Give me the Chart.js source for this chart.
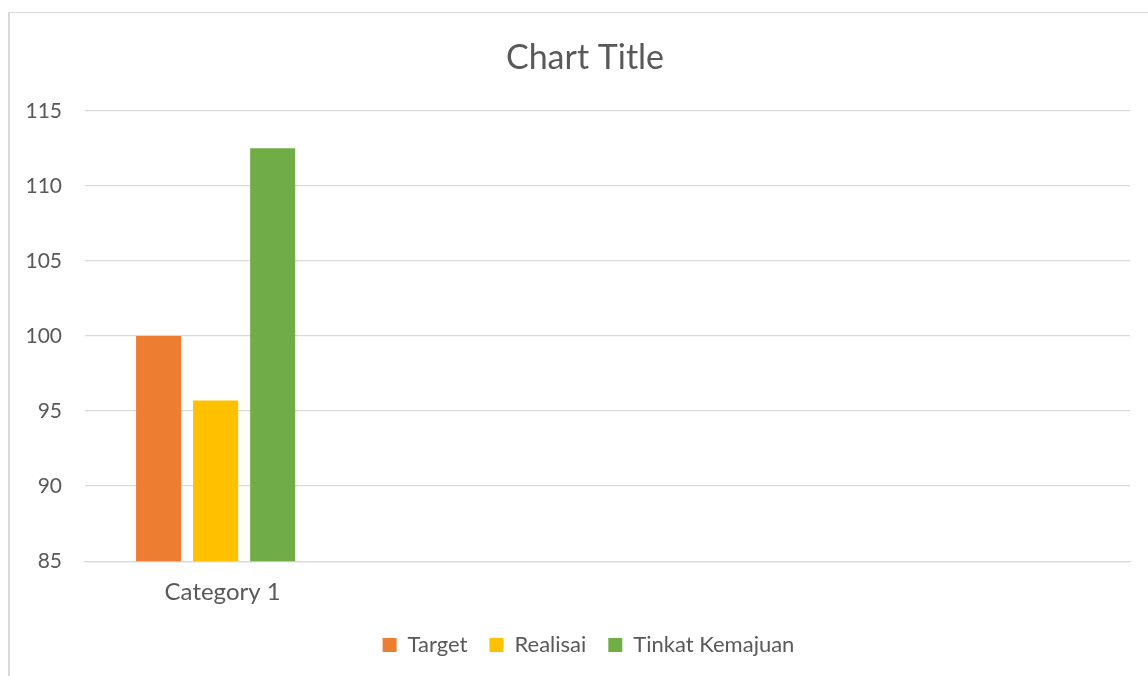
<!DOCTYPE html>
<html>
<head>
<meta charset="utf-8">
<script src="https://cdn.jsdelivr.net/npm/chart.js@4.4.1/dist/chart.umd.min.js"></script>
<style>
  html, body { margin: 0; padding: 0; background: #ffffff; overflow: hidden; }
  #wrap { position: relative; width: 1148px; height: 676px; overflow: hidden; }
  #frame { position: absolute; left: 8px; top: 12px; width: 1200px; height: 700px;
           border-left: 2px solid #d9d9d9; border-top: 1px solid #d9d9d9; }
  #c { position: absolute; left: 0; top: 0; }
</style>
</head>
<body>
<div id="wrap">
  <div id="frame"></div>
  <canvas id="c" width="1148" height="676"></canvas>
</div>
<script>
const categories = ['Category 1', '', '', ''];
const seriesNames = ['Target', 'Realisai', 'Tinkat Kemajuan'];
const targetValues = [100, null, null, null];
const realisaiValues = [95.7, null, null, null];
const kemajuanValues = [112.5, null, null, null];
const yTicks = [85, 90, 95, 100, 105, 110, 115];
const seriesColors = ['#ED7D31', '#FFC000', '#70AD47'];

const FONT = 'Lato, "Open Sans", sans-serif';
const TEXT = '#595959';
const GRID = '#d9d9d9';

const seriesValues = [targetValues, realisaiValues, kemajuanValues];

// Excel centres the title and legend slightly right of the canvas centre
const shiftBoxes = {
  id: 'shiftBoxes',
  afterLayout(chart) {
    if (chart.titleBlock) { chart.titleBlock.left += 15; chart.titleBlock.right += 15; }
    if (chart.legend) { chart.legend.left += 37; }
  }
};

new Chart(document.getElementById('c'), {
  type: 'bar',
  data: {
    labels: categories,
    datasets: seriesNames.map((name, i) => ({
      label: name,
      data: seriesValues[i],
      backgroundColor: seriesColors[i],
      borderWidth: 0,
      categoryPercentage: 0.655,
      barPercentage: 0.79
    }))
  },
  plugins: [shiftBoxes],
  options: {
    responsive: false,
    animation: false,
    layout: { padding: { left: 10, right: 18, top: 0, bottom: 10 } },
    plugins: {
      title: {
        display: true,
        text: 'Chart Title',
        color: TEXT,
        font: { family: FONT, size: 34, weight: 'normal' },
        padding: { top: 38, bottom: 32 }
      },
      legend: {
        display: true,
        position: 'bottom',
        labels: {
          color: TEXT,
          font: { family: FONT, size: 22 },
          boxWidth: 14,
          boxHeight: 14,
          padding: 22
        }
      },
      tooltip: { enabled: false }
    },
    scales: {
      x: {
        grid: { display: false, drawTicks: false },
        border: { display: true, color: GRID, width: 1.3 },
        ticks: { color: TEXT, font: { family: FONT, size: 24 }, padding: 17, labelOffset: 7, maxRotation: 0, autoSkip: false },
        afterFit: (scale) => { scale.height -= 12; }
      },
      y: {
        min: yTicks[0],
        max: yTicks[yTicks.length - 1],
        afterBuildTicks: (scale) => { scale.ticks = yTicks.map(v => ({ value: v })); },
        afterFit: (scale) => { scale.width = 75; },
        grid: { color: GRID, lineWidth: 1.3, drawTicks: false },
        border: { display: false },
        ticks: { color: TEXT, font: { family: FONT, size: 21 }, padding: 23 }
      }
    }
  }
});
</script>
</body>
</html>
